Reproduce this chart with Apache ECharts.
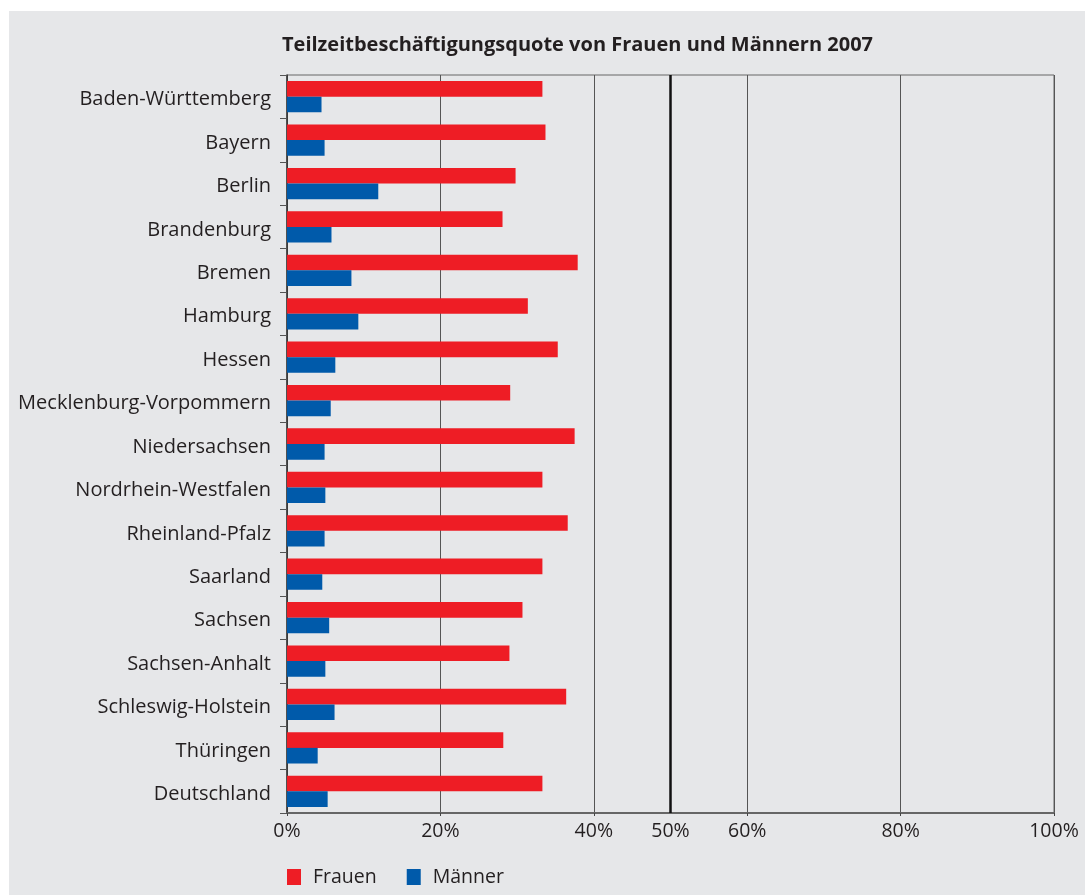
<!DOCTYPE html>
<html>
<head>
<meta charset="utf-8">
<script src="https://cdn.jsdelivr.net/npm/echarts@6/dist/echarts.min.js"></script>
<style>
html,body{margin:0;padding:0;background:#fff;}
#chart{width:1085px;height:895px;}
</style>
</head>
<body>
<div id="chart"></div>
<script>
const categories = ["Baden-Württemberg","Bayern","Berlin","Brandenburg","Bremen","Hamburg","Hessen","Mecklenburg-Vorpommern","Niedersachsen","Nordrhein-Westfalen","Rheinland-Pfalz","Saarland","Sachsen","Sachsen-Anhalt","Schleswig-Holstein","Thüringen","Deutschland"];
const frauen = [33.3, 33.7, 29.8, 28.1, 37.9, 31.4, 35.3, 29.1, 37.5, 33.3, 36.6, 33.3, 30.7, 29.0, 36.4, 28.2, 33.3];
const maenner = [4.5, 4.9, 11.9, 5.8, 8.4, 9.3, 6.3, 5.7, 4.9, 5.0, 4.9, 4.6, 5.5, 5.0, 6.2, 4.0, 5.3];
const seriesNames = ["Frauen", "Männer"];
const xTickLabels = [0, 20, 40, 60, 80, 100];
const markValue = 50;
const title = "Teilzeitbeschäftigungsquote von Frauen und Männern 2007";

const FONT = "'Open Sans', 'Noto Sans', sans-serif";
const TXT = '#231f20';
const chart = echarts.init(document.getElementById('chart'), null, {renderer: 'canvas'});
chart.setOption({
  backgroundColor: '#ffffff',
  animation: false,
  graphic: [{
    type: 'rect', left: 9, top: 11, z: -10,
    shape: {width: 1076, height: 884},
    style: {fill: '#e6e7e9'}
  }],
  title: {
    text: title, left: 277, top: 30,
    textStyle: {fontFamily: FONT, fontWeight: 'bold', fontSize: 20, color: TXT}
  },
  legend: {
    left: 282, top: 862, itemWidth: 14, itemHeight: 16, itemGap: 30,
    icon: 'rect',
    textStyle: {fontFamily: FONT, fontSize: 19.5, color: TXT, padding: [0,0,0,7]},
    data: seriesNames
  },
  grid: {
    left: 287, right: 31, top: 75, bottom: 82,
    show: true, borderColor: '#666', borderWidth: 1, backgroundColor: 'transparent'
  },
  xAxis: {
    type: 'value', min: 0, max: 100, interval: 20,
    axisLine: {show: true, lineStyle: {color: '#666', width: 2}},
    axisTick: {show: true, length: 3, lineStyle: {color: '#444'}},
    axisLabel: {
      fontFamily: FONT, fontSize: 19.5, color: TXT, margin: 8,
      formatter: v => xTickLabels.includes(v) ? v + '%' : ''
    },
    splitLine: {show: true, lineStyle: {color: '#555', width: 1}}
  },
  yAxis: {
    type: 'category', data: categories, inverse: true,
    axisLine: {show: true, lineStyle: {color: '#333', width: 1.5}},
    axisTick: {show: true, length: 7, lineStyle: {color: '#555'}},
    axisLabel: {
      margin: 16,
      formatter: v => '{a|' + v + '}',
      rich: {a: {fontFamily: FONT, fontSize: 20, color: TXT, padding: [6, 0, 0, 0]}}
    }
  },
  series: [
    {
      name: seriesNames[0], type: 'bar', data: frauen,
      itemStyle: {color: '#ee1d25'},
      barGap: '0%', barCategoryGap: '28%',
      markLine: {
        silent: true, symbol: 'none',
        lineStyle: {color: '#111', width: 2.5, type: 'solid'},
        label: {show: true, position: 'end', formatter: markValue + '%', fontFamily: FONT, fontSize: 19.5, color: TXT, distance: 8},
        data: [{xAxis: markValue}]
      }
    },
    {
      name: seriesNames[1], type: 'bar', data: maenner,
      itemStyle: {color: '#005aaa'},
      barGap: '0%', barCategoryGap: '28%'
    }
  ]
});
</script>
</body>
</html>
